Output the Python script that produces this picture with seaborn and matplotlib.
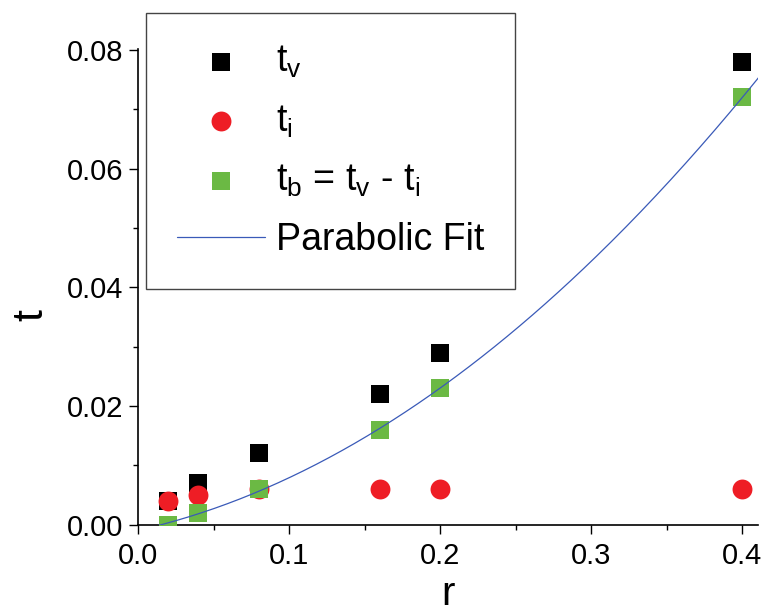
import numpy as np
import pandas as pd
import matplotlib
matplotlib.use("Agg")
import matplotlib.pyplot as plt
import seaborn as sns
from matplotlib.ticker import MultipleLocator

# ---- data ----
r = [0.02, 0.04, 0.08, 0.16, 0.20, 0.40]
t_v = [0.004, 0.007, 0.012, 0.022, 0.029, 0.078]
t_i = [0.004, 0.005, 0.006, 0.006, 0.006, 0.006]
t_b = [0.0, 0.002, 0.006, 0.016, 0.023, 0.072]

label_v = "t$_\\mathregular{v}$"
label_i = "t$_\\mathregular{i}$"
label_b = "t$_\\mathregular{b}$ = t$_\\mathregular{v}$ - t$_\\mathregular{i}$"
label_fit = "Parabolic Fit"

sns.set_theme(style="ticks")
plt.rcParams["font.family"] = ["Liberation Sans", "DejaVu Sans"]
plt.rcParams["mathtext.fontset"] = "custom"
plt.rcParams["mathtext.rm"] = "Liberation Sans"
plt.rcParams["text.color"] = "black"

fig = plt.figure(figsize=(7.65, 6.12), dpi=100)
ax = fig.add_axes([0.1804, 0.1427, 0.9912 - 0.1804, 0.9204 - 0.1427])

# parabolic fit of t_b
coef = np.polyfit(r, t_b, 2)
r_fit = np.linspace(0.0, 0.42, 300)
fit_df = pd.DataFrame({"r": r_fit, "t": np.polyval(coef, r_fit)})

sns.scatterplot(x=r, y=t_v, marker="s", color="black", s=165, linewidth=0,
                label=label_v, ax=ax, zorder=3)
sns.scatterplot(x=r, y=t_i, marker="o", color="#ee1d25", s=205, linewidth=0,
                label=label_i, ax=ax, zorder=4)
sns.scatterplot(x=r, y=t_b, marker="s", color="#6bb944", s=165, linewidth=0,
                label=label_b, ax=ax, zorder=5)
sns.lineplot(data=fit_df, x="r", y="t", color="#3a5ab8", linewidth=0.9,
             label=label_fit, ax=ax, zorder=6)

ax.set_xlim(0, 0.4106)
ax.set_ylim(0, 0.0802)
ax.xaxis.set_major_locator(MultipleLocator(0.1))
ax.xaxis.set_minor_locator(MultipleLocator(0.05))
ax.yaxis.set_major_locator(MultipleLocator(0.02))
ax.yaxis.set_minor_locator(MultipleLocator(0.01))
ax.xaxis.set_major_formatter(matplotlib.ticker.FormatStrFormatter("%.1f"))
ax.yaxis.set_major_formatter(matplotlib.ticker.FormatStrFormatter("%.2f"))

for side in ["top", "right"]:
    ax.spines[side].set_visible(False)
for side in ["left", "bottom"]:
    ax.spines[side].set_linewidth(1.2)
    ax.spines[side].set_color("black")

ax.tick_params(which="major", direction="out", length=6.5, width=1.0,
               labelsize=21, color="black", labelcolor="black")
ax.tick_params(axis="x", which="major", pad=6)
ax.tick_params(axis="y", which="major", pad=4)
ax.tick_params(which="minor", direction="out", length=3.3, width=1.0, color="black")

ax.set_xlabel("r", fontsize=29, color="black")
ax.set_ylabel("t", fontsize=31, color="black")
ax.xaxis.set_label_coords(0.5, -0.105)
ax.yaxis.set_label_coords(-0.139, 0.44)

leg = ax.legend(loc="upper left", bbox_to_anchor=(146 / 765, 1 - 13 / 612),
                bbox_transform=fig.transFigure, borderaxespad=0,
                fontsize=27, frameon=True, fancybox=False, framealpha=1,
                edgecolor="#444444", handlelength=2.35, handletextpad=0.3,
                borderpad=0.82, labelspacing=0.62, markerscale=1.0)
leg.get_frame().set_linewidth(1.0)
for txt in leg.get_texts():
    txt.set_color("black")

fig.savefig("out.png", dpi=100)
